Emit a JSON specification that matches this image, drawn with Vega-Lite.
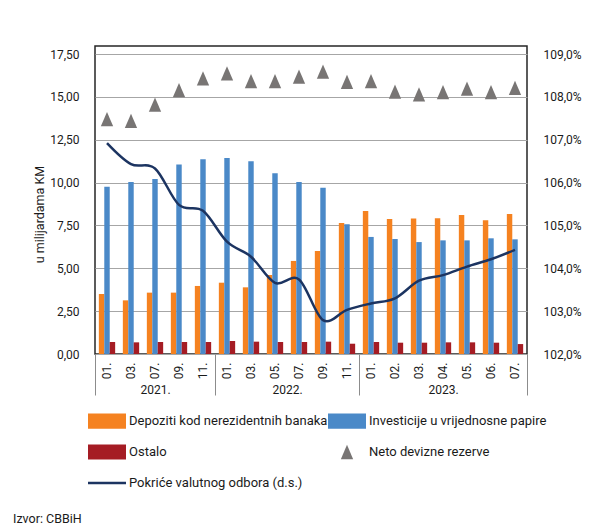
{
  "$schema": "https://vega.github.io/schema/vega-lite/v6.json",
  "width": 432,
  "height": 308,
  "autosize": {"type": "none"},
  "padding": {"left": 95, "top": 46, "right": 89, "bottom": 177},
  "background": "white",
  "config": {
    "font": "Roboto",
    "view": {"stroke": "#262626", "strokeWidth": 1.5},
    "axis": {"labelFont": "Roboto", "labelColor": "#1a1a1a", "titleFont": "Roboto", "titleColor": "#1a1a1a"}
  },
  "title": {
    "text": "Izvor: CBBiH",
    "orient": "bottom",
    "anchor": "start",
    "frame": "group",
    "dx": -82,
    "offset": 22,
    "fontSize": 12.5,
    "fontWeight": "normal",
    "color": "#1a1a1a",
    "font": "Roboto"
  },
  "datasets": {
    "main": [
      {"period": "2021-01", "dep": 3.50, "inv": 9.76, "ost": 0.70, "neto": 107.48, "pok": 106.92},
      {"period": "2021-03", "dep": 3.13, "inv": 10.03, "ost": 0.68, "neto": 107.44, "pok": 106.43},
      {"period": "2021-07", "dep": 3.58, "inv": 10.21, "ost": 0.70, "neto": 107.82, "pok": 106.33},
      {"period": "2021-09", "dep": 3.58, "inv": 11.05, "ost": 0.70, "neto": 108.16, "pok": 105.48},
      {"period": "2021-11", "dep": 3.97, "inv": 11.36, "ost": 0.70, "neto": 108.43, "pok": 105.34},
      {"period": "2022-01", "dep": 4.16, "inv": 11.43, "ost": 0.76, "neto": 108.55, "pok": 104.62},
      {"period": "2022-03", "dep": 3.89, "inv": 11.24, "ost": 0.72, "neto": 108.37, "pok": 104.27},
      {"period": "2022-05", "dep": 4.61, "inv": 10.54, "ost": 0.70, "neto": 108.37, "pok": 103.66},
      {"period": "2022-07", "dep": 5.43, "inv": 10.03, "ost": 0.70, "neto": 108.47, "pok": 103.74},
      {"period": "2022-09", "dep": 6.01, "inv": 9.70, "ost": 0.72, "neto": 108.59, "pok": 102.79},
      {"period": "2022-11", "dep": 7.64, "inv": 7.57, "ost": 0.60, "neto": 108.35, "pok": 103.03},
      {"period": "2023-01", "dep": 8.34, "inv": 6.83, "ost": 0.70, "neto": 108.37, "pok": 103.18},
      {"period": "2023-02", "dep": 7.88, "inv": 6.71, "ost": 0.66, "neto": 108.12, "pok": 103.30},
      {"period": "2023-03", "dep": 7.90, "inv": 6.53, "ost": 0.66, "neto": 108.06, "pok": 103.71},
      {"period": "2023-04", "dep": 7.92, "inv": 6.63, "ost": 0.68, "neto": 108.11, "pok": 103.84},
      {"period": "2023-05", "dep": 8.11, "inv": 6.63, "ost": 0.68, "neto": 108.19, "pok": 104.04},
      {"period": "2023-06", "dep": 7.80, "inv": 6.75, "ost": 0.66, "neto": 108.11, "pok": 104.21},
      {"period": "2023-07", "dep": 8.17, "inv": 6.69, "ost": 0.58, "neto": 108.21, "pok": 104.43}
    ],
    "years": [
      {"year": "2021.", "months": 5},
      {"year": "2022.", "months": 6},
      {"year": "2023.", "months": 7}
    ]
  },
  "resolve": {"scale": {"x": "independent", "y": "independent"}, "axis": {"x": "independent", "y": "independent"}},
  "layer": [
    {
      "data": {"name": "main"},
      "transform": [{"fold": ["dep", "inv", "ost"], "as": ["series", "amount"]}],
      "mark": {"type": "bar"},
      "encoding": {
        "x": {
          "field": "period", "type": "nominal",
          "scale": {"type": "band", "paddingInner": 0.32, "paddingOuter": 0.16},
          "axis": {
            "orient": "bottom", "title": null, "labelAngle": -90, "labelAlign": "right", "labelBaseline": "middle",
            "labelExpr": "substring(datum.value, 5, 7) + '.'", "ticks": false, "domain": false, "grid": false,
            "labelPadding": 8, "labelFontSize": 12, "labelOverlap": false
          }
        },
        "xOffset": {"field": "series", "type": "nominal", "scale": {"domain": ["dep", "inv", "ost"], "paddingInner": 0, "paddingOuter": 0}},
        "y": {
          "field": "amount", "type": "quantitative",
          "scale": {"domain": [0, 17.97], "nice": false, "zero": true},
          "axis": {
            "orient": "left", "values": [0, 2.5, 5, 7.5, 10, 12.5, 15, 17.5],
            "labelExpr": "replace(format(datum.value, '.2f'), '.', ',')",
            "grid": true, "gridColor": "#a6a6a6", "gridWidth": 1, "ticks": false, "domain": false,
            "labelPadding": 16, "labelFontSize": 12,
            "title": "u milijardama KM", "titleFontSize": 12.5, "titleFontWeight": "normal",
            "titleX": -56, "titleY": 168, "titleAngle": -90, "titleAlign": "center", "titleBaseline": "middle"
          }
        },
        "color": {
          "field": "series", "type": "nominal",
          "scale": {
            "domain": ["dep", "inv", "ost", "neto", "pok"],
            "range": ["#F58220", "#4A89C8", "#A51C24", "#787574", "#1C3461"]
          },
          "legend": {
            "title": null, "orient": "none", "direction": "horizontal", "legendX": -7, "legendY": 356, "columns": 2,
            "columnPadding": 0, "rowPadding": 4, "labelOffset": 3, "labelLimit": 400,
            "labelFont": "Roboto", "labelFontSize": 13, "labelColor": "#1a1a1a", "symbolSize": 1444,
            "labelExpr": "datum.value == 'dep' ? 'Depoziti kod nerezidentnih banaka' : datum.value == 'inv' ? 'Investicije u vrijednosne papire' : datum.value == 'ost' ? 'Ostalo' : datum.value == 'neto' ? 'Neto devizne rezerve' : 'Pokriće valutnog odbora (d.s.)'",
            "encode": {
              "symbols": {
                "update": {
                  "x": {"value": 19},
                  "shape": {"signal": "datum.value == 'neto' ? 'M0,-1.16L-1,1.16L1,1.16Z' : datum.value == 'pok' ? 'M-1,-0.4M1,0.4M-1,-0.066H1V0.066H-1Z' : 'M-1,-0.4H1V0.4H-1Z'"},
                  "size": {"signal": "datum.value == 'neto' ? 151 : 1444"},
                  "fill": {"signal": "scale('color', datum.value)"},
                  "stroke": {"value": "transparent"},
                  "strokeWidth": {"value": 0},
                  "opacity": {"value": 1}
                }
              },
              "labels": {
                "update": {
                  "x": {"value": 41},
                  "align": {"value": "left"}
                }
              }
            }
          }
        }
      }
    },
    {
      "data": {"name": "main"},
      "mark": {"type": "point", "shape": "M0,-1.16L-1,1.16L1,1.16Z", "filled": true, "size": 151, "opacity": 1},
      "encoding": {
        "x": {"field": "period", "type": "nominal", "scale": {"type": "band", "paddingInner": 0.32, "paddingOuter": 0.16}, "axis": null},
        "y": {
          "field": "neto", "type": "quantitative",
          "scale": {"domain": [102, 109.187], "nice": false, "zero": false},
          "axis": {
            "orient": "right", "values": [102, 103, 104, 105, 106, 107, 108, 109],
            "labelExpr": "replace(format(datum.value, '.1f'), '.', ',') + '%'",
            "grid": false, "ticks": false, "domain": false, "labelPadding": 16, "labelFontSize": 12, "title": null
          }
        },
        "color": {"datum": "neto", "legend": null}
      }
    },
    {
      "data": {"name": "main"},
      "mark": {"type": "line", "interpolate": "cardinal", "strokeWidth": 2.5},
      "encoding": {
        "x": {"field": "period", "type": "nominal", "scale": {"type": "band", "paddingInner": 0.32, "paddingOuter": 0.16}, "axis": null},
        "y": {"field": "pok", "type": "quantitative", "scale": {"domain": [102, 109.187], "nice": false, "zero": false}, "axis": null},
        "color": {"datum": "pok", "legend": null}
      }
    },
    {
      "data": {"name": "years"},
      "mark": {"type": "bar", "opacity": 0},
      "encoding": {
        "x": {
          "field": "months", "type": "quantitative", "stack": "zero",
          "scale": {"domain": [0, 18], "nice": false, "zero": true},
          "axis": {"orient": "bottom", "values": [0, 5, 11, 18], "labels": false, "ticks": true, "tickSize": 41,
                   "tickColor": "#8c8c8c", "tickWidth": 1, "domain": false, "grid": false, "title": null}
        },
        "detail": {"field": "year", "type": "nominal"}
      }
    },
    {
      "data": {"name": "years"},
      "mark": {"type": "bar", "opacity": 0},
      "encoding": {
        "x": {
          "field": "months", "type": "quantitative", "stack": "zero",
          "scale": {"domain": [0, 18], "nice": false, "zero": true},
          "axis": {"orient": "bottom", "values": [2.5, 8, 14.5],
                   "labelExpr": "datum.value < 5 ? '2021.' : datum.value < 11 ? '2022.' : '2023.'",
                   "ticks": false, "domain": false, "grid": false, "title": null, "labelPadding": 30,
                   "labelFontSize": 12, "labelOverlap": false, "labelFlush": false}
        },
        "detail": {"field": "year", "type": "nominal"}
      }
    }
  ]
}
